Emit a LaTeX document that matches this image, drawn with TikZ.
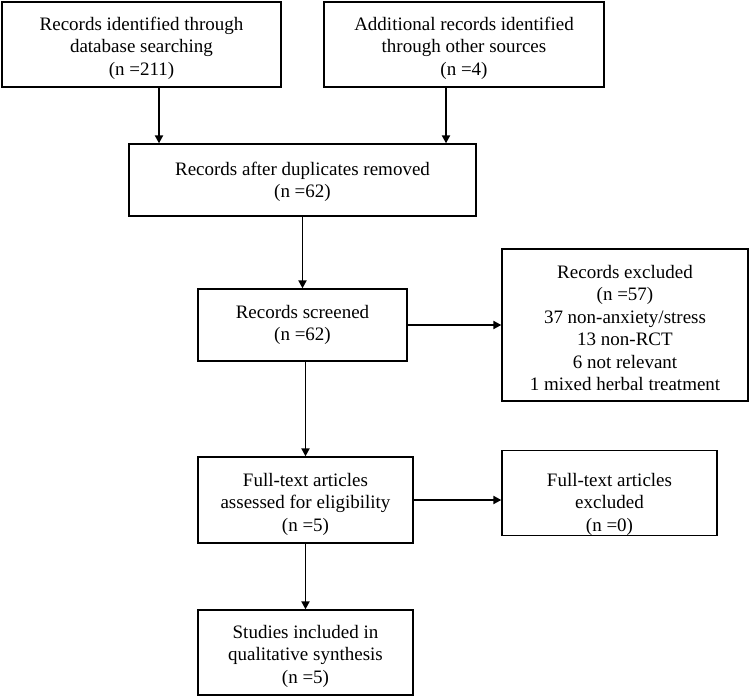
\documentclass[tikz,border=0pt]{standalone}
\usepackage{fontspec}
\setmainfont{Liberation Serif}
\usetikzlibrary{arrows.meta}

% push a box's text down a little
\newcommand{\topgap}[1]{\rule{0pt}{#1pt}}

\tikzset{
  box/.style={draw, line width=1.3pt, align=center, inner sep=0pt,
    font=\fontsize{19}{22.5}\selectfont},
  flow/.style={-{Triangle[length=8pt,width=8pt]}, line width=1.9pt}
}

\begin{document}
\begin{tikzpicture}[x=1pt,y=-1pt]
    \useasboundingbox (0,0) rectangle (750,698);

    %Identification
    \node[box, minimum width=279pt, minimum height=85pt] (search) at (141.5,44.5)
      {\topgap{21}Records identified through\\database searching\\(n =211)};
    \node[box, minimum width=280pt, minimum height=85pt] (other) at (464,44.5)
      {\topgap{21}Additional records identified\\through other sources\\(n =4)};

    %Screening
    \node[box, minimum width=347pt, minimum height=72pt] (dupes) at (302.5,180)
      {\topgap{17}Records after duplicates removed\\(n =62)};
    \node[box, minimum width=209pt, minimum height=72pt] (screened) at (302.5,325)
      {Records screened\\(n =62)};
    \node[box, minimum width=246pt, minimum height=152pt] (excluded) at (625,325)
      {\topgap{19}Records excluded\\(n =57)\\37 non-anxiety/stress\\13 non-RCT\\6 not relevant\\1 mixed herbal treatment};

    %Eligibility
    \node[box, minimum width=215pt, minimum height=86pt] (fulltext) at (305.5,500)
      {\topgap{22}Full-text articles\\assessed for eligibility\\(n =5)};
    \node[box, minimum width=215pt, minimum height=72pt] (ftexcl) at (609.5,493)
      {\topgap{36}Full-text articles\\excluded\\(n =0)};

    %Included
    \node[box, minimum width=215pt, minimum height=85pt] (included) at (305.5,652.5)
      {\topgap{21}Studies included in\\qualitative synthesis\\(n =5)};

    %Arrows
    \coordinate (searchout) at (159,87);
    \coordinate (otherout) at (446,87);
    \draw[flow] (searchout) -- (searchout |- dupes.north);
    \draw[flow] (otherout) -- (otherout |- dupes.north);
    \draw[flow] (dupes.south) -- (screened.north);
    \draw[flow] (screened.east) -- (excluded.west);
    \draw[flow] (screened.south -| fulltext.north) -- (fulltext.north);
    \draw[flow] (fulltext.east) -- (fulltext.east -| ftexcl.west);
    \draw[flow] (fulltext.south) -- (included.north);

\end{tikzpicture}
\end{document}
